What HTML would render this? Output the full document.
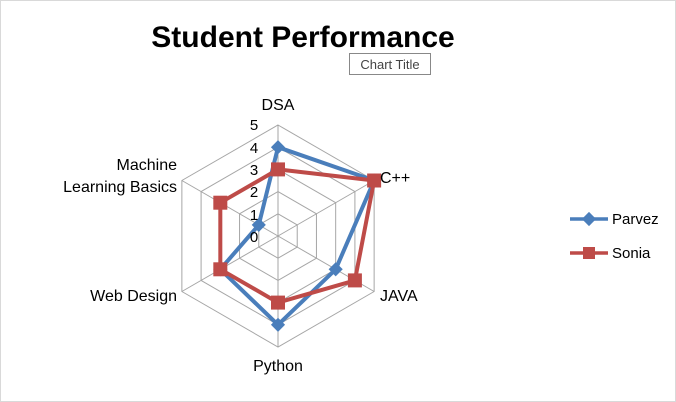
<!DOCTYPE html>
<html><head><style>
body{margin:0;background:#fff;}
svg{display:block;font-family:"Liberation Sans",Calibri,sans-serif;}
</style></head><body>
<svg width="676" height="402" viewBox="0 0 676 402" xmlns="http://www.w3.org/2000/svg">
<rect x="0.5" y="0.5" width="675" height="401" fill="#fff" stroke="#d9d9d9"/>
<text x="303" y="47" text-anchor="middle" font-size="30" font-weight="bold" fill="#000">Student Performance</text>
<rect x="349.5" y="53.5" width="81" height="21" fill="#fff" stroke="#888"/>
<text x="390" y="69" text-anchor="middle" font-size="13" fill="#444">Chart Title</text>
<g id="grid" fill="none" stroke="#a6a6a6" stroke-width="1"></g>
<g id="series"></g>
<g font-size="15" fill="#000">
<text x="254" y="130" text-anchor="middle">5</text>
<text x="254" y="153" text-anchor="middle">4</text>
<text x="254" y="175" text-anchor="middle">3</text>
<text x="254" y="197" text-anchor="middle">2</text>
<text x="254" y="220" text-anchor="middle">1</text>
<text x="254" y="242" text-anchor="middle">0</text>
</g>
<g font-size="16" fill="#000">
<text x="278" y="110" text-anchor="middle">DSA</text>
<text x="380" y="183">C++</text>
<text x="380" y="301">JAVA</text>
<text x="278" y="371" text-anchor="middle">Python</text>
<text x="177" y="301" text-anchor="end">Web Design</text>
<text x="177" y="170" text-anchor="end">Machine</text>
<text x="177" y="192" text-anchor="end">Learning Basics</text>
</g>
<line x1="570" y1="219" x2="608" y2="219" stroke="#4a7ebb" stroke-width="3.5"/>
<rect x="584" y="214" width="10" height="10" fill="#4a7ebb" transform="rotate(45 589 219)"/>
<text x="612" y="224" font-size="15">Parvez</text>
<line x1="570" y1="253" x2="608" y2="253" stroke="#be4b48" stroke-width="3.5"/>
<rect x="583" y="247" width="12" height="12" fill="#be4b48"/>
<text x="612" y="258" font-size="15">Sonia</text>
<script>
var cx=278,cy=236,R=111,ns="http://www.w3.org/2000/svg";
function pt(i,v){var a=Math.PI/3*i;return [cx+R*v/5*Math.sin(a),cy-R*v/5*Math.cos(a)];}
var g=document.getElementById('grid');
for(var k=1;k<=5;k++){var p=[];for(var i=0;i<6;i++)p.push(pt(i,k).join(','));var e=document.createElementNS(ns,'polygon');e.setAttribute('points',p.join(' '));g.appendChild(e);}
for(var i=0;i<6;i++){var q=pt(i,5);var l=document.createElementNS(ns,'line');l.setAttribute('x1',cx);l.setAttribute('y1',cy);l.setAttribute('x2',q[0]);l.setAttribute('y2',q[1]);g.appendChild(l);}
var s=document.getElementById('series');
function ser(vals,col,sq){var p=[];for(var i=0;i<6;i++)p.push(pt(i,vals[i]).join(','));var e=document.createElementNS(ns,'polygon');e.setAttribute('points',p.join(' '));e.setAttribute('fill','none');e.setAttribute('stroke',col);e.setAttribute('stroke-width','4');e.setAttribute('stroke-linejoin','round');s.appendChild(e);
for(var i=0;i<6;i++){var q=pt(i,vals[i]);var m=document.createElementNS(ns,'rect');
if(sq){m.setAttribute('x',q[0]-7);m.setAttribute('y',q[1]-7);m.setAttribute('width',14);m.setAttribute('height',14);}
else{m.setAttribute('x',q[0]-5);m.setAttribute('y',q[1]-5);m.setAttribute('width',10);m.setAttribute('height',10);m.setAttribute('transform','rotate(45 '+q[0]+' '+q[1]+')');}
m.setAttribute('fill',col);s.appendChild(m);}}
ser([4,5,3,4,3,1],'#4a7ebb',false);
ser([3,5,4,3,3,3],'#be4b48',true);
</script>
</svg>
</body></html>
